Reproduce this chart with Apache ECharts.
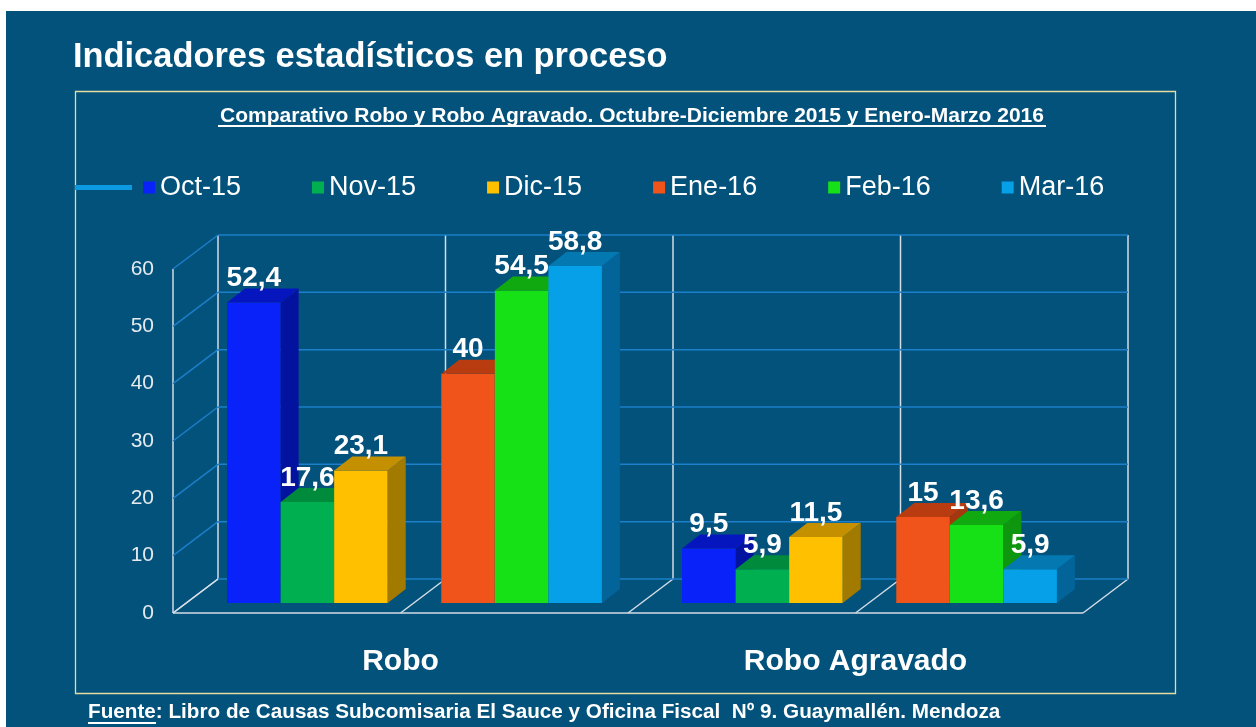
<!DOCTYPE html>
<html>
<head>
<meta charset="utf-8">
<title>Indicadores estadísticos en proceso</title>
<script src="https://cdn.jsdelivr.net/npm/echarts@6/dist/echarts.min.js"></script>
<style>
    html, body {margin: 0; padding: 0;}
    #main {width: 1256px; height: 727px;}
</style>
</head>
<body>
<div id="main"></div>
<script>
    "use strict";

    /*---- data ----*/
    var categories = ['Robo', 'Robo Agravado'];
    var months = ['Oct-15', 'Nov-15', 'Dic-15', 'Ene-16', 'Feb-16', 'Mar-16'];
    var oct15 = [52.4, 9.5];
    var nov15 = [17.6, 5.9];
    var dic15 = [23.1, 11.5];
    var ene16 = [40, 15];
    var feb16 = [54.5, 13.6];
    var mar16 = [58.8, 5.9];
    var yTicks = [0, 10, 20, 30, 40, 50, 60];

    var monthValues = [oct15, nov15, dic15, ene16, feb16, mar16];
    // 7 slots per category, the 4th one stays empty (blank series in the sheet)
    var monthSlots = [0, 1, 2, 4, 5, 6];
    var SLOTS = 7, GROUP = 0.824;

    // front, top, side
    var colors = [
        ['#0a22fa', '#0616bf', '#0412a0'],
        ['#00b050', '#008a3c', '#007834'],
        ['#ffc000', '#c49000', '#a27a00'],
        ['#f0541a', '#b83c10', '#a5360e'],
        ['#16e016', '#10aa10', '#0e960e'],
        ['#05a0e8', '#0478b0', '#03649a']
    ];

    var FONT = "'Liberation Sans', Arial, sans-serif";
    var GRID_BLUE = '#1b7fc9', FRAME_WHITE = '#d5dde5';
    // pseudo 3d offsets, in pixels, relative to the bars front plane
    var BACK = [31, -24], FRONT = [-14, 10], BAR = [18, -14];

    function fmt(v) {
        return String(v).replace('.', ',');
    }

    function line(x1, y1, x2, y2, color) {
        return {
            type: 'line',
            shape: {x1: x1, y1: y1, x2: x2, y2: y2},
            style: {stroke: color, lineWidth: 1.5}
        };
    }

    /*---- back wall rows + side wall diagonals ----*/
    function renderWallRow(params, api) {
        var cs = params.coordSys;
        var v = api.value(1);
        var y = api.coord([0, v])[1];
        var l = cs.x, r = cs.x + cs.width;
        var children = [
            line(l + BACK[0], y + BACK[1], r + BACK[0], y + BACK[1], GRID_BLUE),
            line(l + FRONT[0], y + FRONT[1], l + BACK[0], y + BACK[1], v === 0 ? FRAME_WHITE : GRID_BLUE)
        ];
        if (v === 0) {
            children.push(line(l + FRONT[0], y + FRONT[1], r + FRONT[0], y + FRONT[1], FRAME_WHITE));
        }
        return {type: 'group', children: children};
    }

    /*---- back wall verticals + floor diagonals ----*/
    function renderWallColumn(params, api) {
        var cs = params.coordSys;
        var x = cs.x + cs.width * api.value(2) / 4;
        var top = cs.y, bottom = cs.y + cs.height;
        var children = [
            line(x + BACK[0], bottom + BACK[1], x + BACK[0], top + BACK[1], FRAME_WHITE),
            line(x + FRONT[0], bottom + FRONT[1], x + BACK[0], bottom + BACK[1], FRAME_WHITE)
        ];
        if (api.value(2) === 0) {
            children.push(line(x + FRONT[0], bottom + FRONT[1], x + FRONT[0], top + FRONT[1], FRAME_WHITE));
        }
        return {type: 'group', children: children};
    }

    /*---- 3d looking bars ----*/
    function barRenderer(m) {
        return function (params, api) {
            var cat = api.value(0), v = api.value(1);
            var topPt = api.coord([cat, v]);
            var basePt = api.coord([cat, 0]);
            var band = api.size([1, 0])[0];
            var slot = band * GROUP / SLOTS;
            var x0 = topPt[0] - band * GROUP / 2 + monthSlots[m] * slot;
            var x1 = x0 + slot;
            var yt = topPt[1], yb = basePt[1];
            var c = colors[m];
            return {
                type: 'group',
                children: [
                    {type: 'rect', shape: {x: x0, y: yt, width: slot, height: yb - yt}, style: {fill: c[0]}},
                    {
                        type: 'polygon',
                        shape: {points: [[x1, yt], [x1 + BAR[0], yt + BAR[1]], [x1 + BAR[0], yb + BAR[1]], [x1, yb]]},
                        style: {fill: c[2]}
                    },
                    {
                        type: 'polygon',
                        shape: {points: [[x0, yt], [x1, yt], [x1 + BAR[0], yt + BAR[1]], [x0 + BAR[0], yt + BAR[1]]]},
                        style: {fill: c[1]}
                    },
                    {
                        type: 'text',
                        x: (x0 + x1) / 2,
                        y: yt + BAR[1] + 4,
                        style: {
                            text: fmt(v),
                            align: 'center',
                            verticalAlign: 'bottom',
                            fill: '#ffffff',
                            fontSize: 28,
                            fontWeight: 'bold',
                            fontFamily: FONT
                        }
                    }
                ]
            };
        };
    }

    var series = [
        {
            type: 'custom',
            silent: true,
            z: 1,
            renderItem: renderWallColumn,
            data: [0, 1, 2, 3, 4].map(function (i) { return [0, 0, i]; }),
            encode: {x: 0, y: 1}
        },
        {
            type: 'custom',
            silent: true,
            z: 1,
            renderItem: renderWallRow,
            data: yTicks.map(function (v) { return [0, v]; }),
            encode: {x: 0, y: 1}
        },
        {
            // blank series of the sheet, only visible in the legend
            type: 'line',
            name: ' ',
            data: [],
            symbol: 'none',
            lineStyle: {color: '#0c9be3', width: 5},
            itemStyle: {color: '#0c9be3'}
        }
    ];

    months.forEach(function (name, m) {
        series.push({
            type: 'custom',
            name: name,
            z: 3,
            renderItem: barRenderer(m),
            itemStyle: {color: colors[m][0]},
            data: monthValues[m].map(function (v, i) { return [i, v]; }),
            encode: {x: 0, y: 1}
        });
    });

    var chart = echarts.init(document.getElementById('main'));
    chart.setOption({
        backgroundColor: '#02527c',
        animation: false,
        title: {
            text: 'Indicadores estadísticos en proceso',
            left: 73,
            top: 41,
            padding: 0,
            textStyle: {color: '#ffffff', fontSize: 34.4, fontWeight: 'bold', fontFamily: FONT}
        },
        legend: [
            {
                data: [{name: ' ', icon: 'rect'}],
                left: 75,
                top: 174,
                padding: 0,
                itemWidth: 57,
                itemHeight: 5,
                textStyle: {color: '#ffffff', fontSize: 27, fontFamily: FONT}
            },
            {
                data: months,
                icon: 'rect',
                left: 143,
                top: 174,
                padding: 0,
                itemWidth: 12,
                itemHeight: 12,
                itemGap: 71,
                textStyle: {color: '#ffffff', fontSize: 27, fontFamily: FONT}
            }
        ],
        grid: [
            // bars front plane
            {left: 187, right: 159, top: 259, bottom: 124},
            // front edge of the 3d box, carries the axis labels
            {left: 173, right: 173, top: 269, bottom: 114}
        ],
        xAxis: [
            {type: 'category', gridIndex: 0, data: categories, show: false},
            {
                type: 'category',
                gridIndex: 1,
                data: categories,
                axisLine: {show: false},
                axisTick: {show: false},
                axisLabel: {margin: 34, color: '#ffffff', fontSize: 30, fontWeight: 'bold', fontFamily: FONT}
            }
        ],
        yAxis: [
            {type: 'value', gridIndex: 0, min: 0, max: 60, interval: 10, show: false},
            {
                type: 'value',
                gridIndex: 1,
                min: 0,
                max: 60,
                interval: 10,
                axisLine: {show: false},
                axisTick: {show: false},
                splitLine: {show: false},
                axisLabel: {margin: 19, color: '#e5eaee', fontSize: 21, fontFamily: FONT}
            }
        ],
        graphic: [
            {type: 'rect', shape: {x: 0, y: 0, width: 1256, height: 11}, style: {fill: '#ffffff'}},
            {type: 'rect', shape: {x: 0, y: 0, width: 6, height: 727}, style: {fill: '#ffffff'}},
            {
                type: 'rect',
                shape: {x: 75.5, y: 91.5, width: 1100, height: 602},
                style: {fill: 'none', stroke: '#e6dca0', lineWidth: 1.3}
            },
            {
                type: 'text',
                x: 632,
                y: 116,
                style: {
                    text: 'Comparativo Robo y Robo Agravado. Octubre-Diciembre 2015 y Enero-Marzo 2016',
                    align: 'center',
                    verticalAlign: 'middle',
                    fill: '#ffffff',
                    fontSize: 21,
                    fontWeight: 'bold',
                    fontFamily: FONT
                }
            },
            {type: 'line', shape: {x1: 218, y1: 126, x2: 1046, y2: 126}, style: {stroke: '#ffffff', lineWidth: 2}},
            {
                type: 'text',
                x: 88,
                y: 712,
                style: {
                    text: 'Fuente: Libro de Causas Subcomisaria El Sauce y Oficina Fiscal  Nº 9. Guaymallén. Mendoza',
                    align: 'left',
                    verticalAlign: 'middle',
                    fill: '#ffffff',
                    fontSize: 20.7,
                    fontWeight: 'bold',
                    fontFamily: FONT
                }
            },
            {type: 'line', shape: {x1: 88, y1: 723, x2: 156, y2: 723}, style: {stroke: '#ffffff', lineWidth: 2}}
        ],
        series: series
    });

    window.onresize = function () {
        chart.resize();
    };
</script>
</body>
</html>
